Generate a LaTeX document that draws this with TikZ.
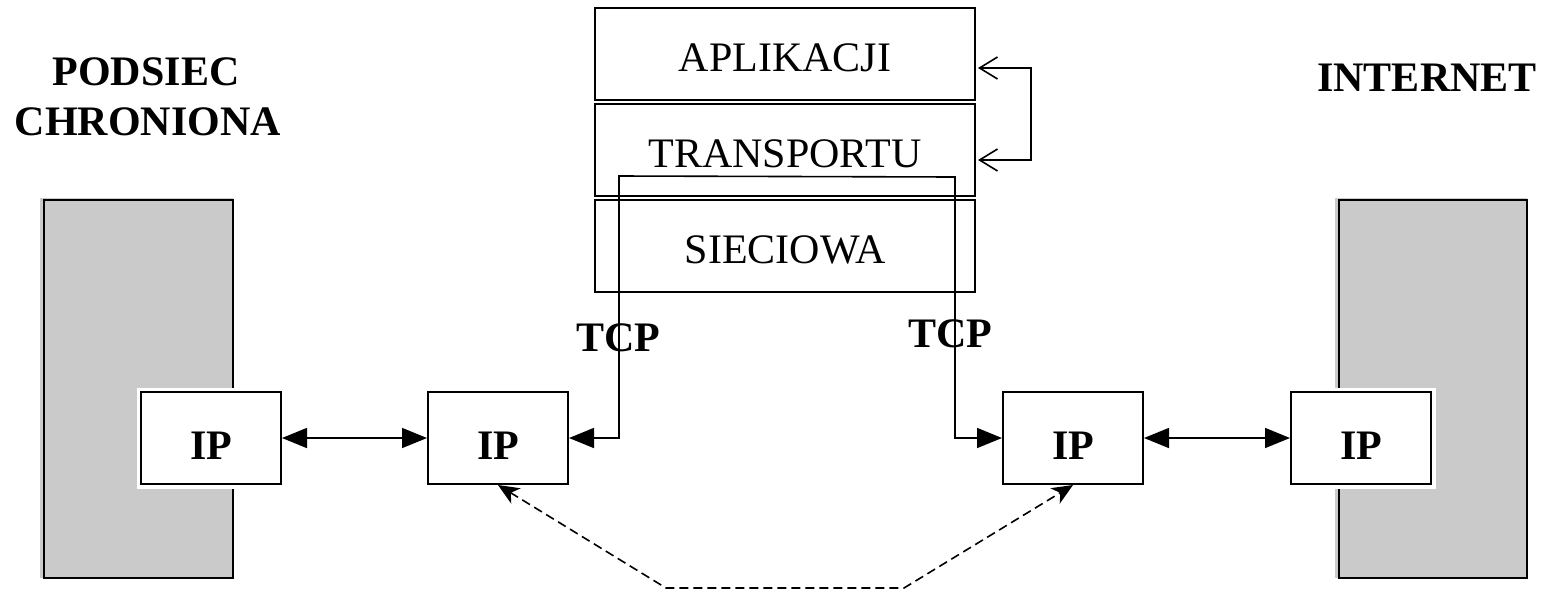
\documentclass[tikz,border=0pt]{standalone}
\usepackage{fontspec}
\setmainfont{Liberation Serif}
\usetikzlibrary{arrows.meta}
\definecolor{zonegray}{RGB}{202,202,202}
\begin{document}
\begin{tikzpicture}[x=1pt,y=-1pt,
  zone/.style={draw=black, line width=2pt, fill=zonegray, inner sep=0pt},
  ipbox/.style={draw=black, line width=2pt, fill=white, minimum width=140pt, minimum height=92pt,
    inner sep=0pt, font=\fontsize{42}{50}\selectfont\bfseries, text height=42pt, text depth=0pt,
    preaction={draw=white, line width=9pt}},
  stackbox/.style={draw=black, line width=2pt, minimum width=380pt, minimum height=92pt,
    inner sep=0pt, font=\fontsize{42}{50}\selectfont, text height=34pt, text depth=0pt},
  title/.style={anchor=base, inner sep=0pt, font=\fontsize{42}{50}\selectfont\bfseries},
  link/.style={line width=1.6pt},
  tri/.style={link, {Triangle[length=25pt,width=20pt]}-{Triangle[length=25pt,width=20pt]}},
  loop/.style={link, {Straight Barb[length=18pt,width=22pt]}-{Straight Barb[length=18pt,width=22pt]},
    shorten <=2pt, shorten >=2pt},
  dashlink/.style={line width=1.6pt, dash pattern=on 9pt off 5pt,
    {Stealth[length=21pt,width=18pt,inset=6pt]}-{Stealth[length=21pt,width=18pt,inset=6pt]}}
]
\path[use as bounding box] (0,0) rectangle (1548,590);

% grey zones
\fill[zonegray] (40,198) rectangle (233,578);
\node[zone, minimum width=189pt, minimum height=378pt] (zoneL) at (138.5,389) {};
\fill[zonegray] (1335,198) rectangle (1527,578);
\node[zone, minimum width=188pt, minimum height=378pt] (zoneR) at (1433,389) {};

% titles
\node[title] (podsiec) at (146,85) {PODSIEC};
\node[title] (chroniona) at (148,135) {CHRONIONA};
\node[title] (internet) at (1427,91) {INTERNET};

% protocol stack
\node[stackbox] (APL) at (785,54) {APLIKACJI};
\node[stackbox] (TRA) at (785,150) {TRANSPORTU};
\node[stackbox] (SIE) at (785,246) {SIECIOWA};

% TCP labels
\node[title] (tcpLlbl) at (618,351) {TCP};
\node[title] (tcpRlbl) at (950,347) {TCP};

% IP boxes
\node[ipbox] (IP1) at (211,438) {IP};
\node[ipbox] (IP2) at (498,438) {IP};
\node[ipbox] (IP3) at (1073,438) {IP};
\node[ipbox] (IP4) at (1361,438) {IP};

% connectors
\draw[tri] (IP1.east) -- (IP2.west);
\draw[tri] (IP3.east) -- (IP4.west);

\coordinate (tcpL) at (619,176);
\coordinate (tcpR) at (955,177);
\draw[tri] (IP2.east) -- (IP2.east -| tcpL) -- (tcpL) -- (tcpR) -- (tcpR |- IP3.west) -- (IP3.west);

\coordinate (la) at (1031,68);
\coordinate (lb) at (1031,160);
\draw[loop] (APL.east |- la) -- (la) -- (lb) -- (TRA.east |- lb);

\coordinate (dl) at (666,588);
\coordinate (dr) at (904,588);
\draw[dashlink] (IP2.south) -- (dl) -- (dr) -- (IP3.south);
\end{tikzpicture}
\end{document}
